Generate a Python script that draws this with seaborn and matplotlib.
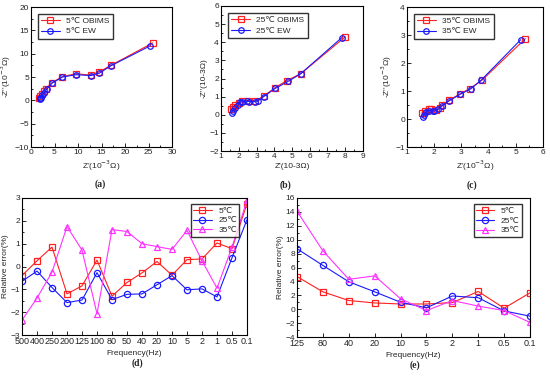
import numpy as np
import pandas as pd
import matplotlib
matplotlib.use("Agg")
import matplotlib.pyplot as plt
from matplotlib.ticker import AutoMinorLocator
import seaborn as sns

sns.set_style("white")
plt.rcParams['font.family'] = ['Liberation Sans', 'DejaVu Sans']

# ---- Nyquist data (a) 5C ----
a_obims_x = [1.8, 2.0, 2.3, 2.7, 3.1, 4.5, 6.7, 9.6, 12.7, 14.5, 17.0, 25.9]
a_obims_y = [0.6, 0.9, 1.4, 2.0, 2.5, 3.8, 5.1, 5.7, 5.4, 6.1, 7.5, 12.3]
a_ew_x = [1.9, 2.0, 2.1, 2.4, 2.8, 3.3, 4.5, 6.7, 9.6, 12.7, 14.5, 17.0, 25.4]
a_ew_y = [0.3, 0.45, 0.6, 1.1, 1.6, 2.35, 3.7, 5.0, 5.5, 5.3, 5.8, 7.4, 11.7]

# ---- (b) 25C ----
b_obims_x = [1.55, 1.7, 1.8, 2.0, 2.2, 2.5, 2.9, 3.4, 4.05, 4.7, 5.5, 8.0]
b_obims_y = [0.32, 0.45, 0.55, 0.65, 0.75, 0.78, 0.75, 1.02, 1.5, 1.88, 2.27, 4.3]
b_ew_x = [1.6, 1.65, 1.8, 1.95, 2.05, 2.2, 2.45, 2.6, 2.9, 3.1, 3.4, 4.05, 4.8, 5.5, 7.8]
b_ew_y = [0.12, 0.2, 0.35, 0.55, 0.72, 0.7, 0.75, 0.73, 0.72, 0.78, 1.0, 1.45, 1.85, 2.27, 4.25]

# ---- (c) 35C ----
c_obims_x = [1.55, 1.65, 1.8, 1.9, 2.05, 2.2, 2.3, 2.55, 2.95, 3.3, 3.75, 5.35]
c_obims_y = [0.22, 0.3, 0.35, 0.35, 0.33, 0.38, 0.5, 0.67, 0.9, 1.08, 1.38, 2.87]
c_ew_x = [1.6, 1.62, 1.7, 1.8, 1.95, 2.0, 2.15, 2.3, 2.55, 2.95, 3.35, 3.72, 5.18]
c_ew_y = [0.07, 0.15, 0.25, 0.3, 0.3, 0.28, 0.35, 0.48, 0.65, 0.88, 1.08, 1.38, 2.83]

# ---- (d) relative error ----
d_freq = ['500', '400', '250', '200', '125', '100', '80', '50', '40', '20', '10', '5', '2', '1', '0.5', '0.1']
d_5 = [-0.4, 0.25, 0.85, -1.2, -0.85, 0.28, -1.3, -0.7, -0.28, 0.22, -0.38, 0.3, 0.33, 1.03, 0.78, 2.75]
d_25 = [-0.65, -0.2, -0.92, -1.58, -1.47, -0.27, -1.45, -1.22, -1.2, -0.8, -0.4, -1.02, -0.98, -1.33, 0.38, 2.05]
d_35 = [-2.35, -1.38, -0.25, 1.75, 0.72, -2.07, 1.62, 1.53, 1.0, 0.87, 0.75, 1.58, 0.25, -0.95, 0.85, 2.9]

# ---- (e) relative error ----
e_freq = ['125', '80', '40', '20', '10', '5', '2', '1', '0.5', '0.1']
e_5 = [4.7, 2.5, 1.25, 0.9, 0.75, 0.75, 0.95, 2.55, 0.15, 2.35]
e_25 = [8.7, 6.3, 3.95, 2.5, 1.0, 0.2, 1.9, 1.65, -0.25, -1.0]
e_35 = [14.1, 8.4, 4.3, 4.8, 1.5, -0.2, 1.25, 0.45, -0.2, -1.9]

RED = '#ff2020'
BLUE = '#1a1aff'
MAG = '#ff33ff'
FS = 6

W, H = 550, 381
fig = plt.figure(figsize=(W / 100, H / 100), dpi=100)


def add_ax(l, r, t, b):
    return fig.add_axes([l / W, 1 - b / H, (r - l) / W, (b - t) / H])


def style(ax):
    for s in ax.spines.values():
        s.set_visible(True)
        s.set_color('black')
        s.set_linewidth(0.8)
    ax.xaxis.set_minor_locator(AutoMinorLocator(2))
    ax.yaxis.set_minor_locator(AutoMinorLocator(2))
    ax.tick_params(which='both', direction='in', labelsize=FS, pad=1.5,
                   bottom=True, left=True, top=False, right=False, width=0.7)
    ax.tick_params(which='major', length=3)
    ax.tick_params(which='minor', length=1.5)


def nyquist(ax, ox, oy, ex, ey, temp, xlim, ylim, xlabel, ylabel):
    df_o = pd.DataFrame({'x': ox, 'y': oy})
    df_e = pd.DataFrame({'x': ex, 'y': ey})
    sns.lineplot(data=df_o, x='x', y='y', sort=False, ax=ax, color=RED, lw=0.8,
                 marker='s', ms=4, mfc='none', mec=RED, mew=0.9,
                 label=f'{temp}℃ OBIMS')
    sns.lineplot(data=df_e, x='x', y='y', sort=False, ax=ax, color=BLUE, lw=0.8,
                 marker='o', ms=4, mfc='none', mec=BLUE, mew=0.9, alpha=1,
                 label=f'{temp}℃ EW')
    ax.set_xlim(*xlim)
    ax.set_ylim(*ylim)
    ax.set_xlabel(xlabel, fontsize=FS, labelpad=2)
    ax.set_ylabel(ylabel, fontsize=FS, labelpad=1)
    style(ax)
    ax.legend(loc='upper left', fontsize=FS, frameon=True, fancybox=False,
              edgecolor='black', handlelength=2.2, borderpad=0.4,
              labelspacing=0.3, bbox_to_anchor=(0.02, 0.98))


ax_a = add_ax(31, 172, 7, 147)
nyquist(ax_a, a_obims_x, a_obims_y, a_ew_x, a_ew_y, 5, (0, 30), (-10, 20),
        "Z'(10$^{-3}$Ω)", "-Z''(10$^{-3}$Ω)")
ax_a.set_xticks([0, 5, 10, 15, 20, 25, 30])
ax_a.set_yticks([-10, -5, 0, 5, 10, 15, 20])

ax_b = add_ax(221, 363, 6, 151)
nyquist(ax_b, b_obims_x, b_obims_y, b_ew_x, b_ew_y, 25, (1, 9), (-2, 6),
        "Z'(10-3Ω)", "-Z''(10-3Ω)")
ax_b.set_xticks(range(1, 10))
ax_b.set_yticks(range(-2, 7))

ax_c = add_ax(407, 543, 7, 147)
nyquist(ax_c, c_obims_x, c_obims_y, c_ew_x, c_ew_y, 35, (1, 6), (-1, 4),
        "Z'(10$^{-3}$Ω)", "-Z''(10$^{-3}$Ω)")
ax_c.set_xticks(range(1, 7))
ax_c.set_yticks(range(-1, 5))


def relerr(ax, freq, s5, s25, s35, ylim, yticks):
    df = pd.DataFrame({'idx': np.arange(len(freq)), 's5': s5, 's25': s25, 's35': s35})
    kw = dict(lw=0.8, ms=4.5, mfc='none', mew=0.9)
    sns.lineplot(data=df, x='idx', y='s5', ax=ax, color=RED, marker='s', mec=RED, label='5℃', **kw)
    sns.lineplot(data=df, x='idx', y='s25', ax=ax, color=BLUE, marker='o', mec=BLUE, label='25℃', **kw)
    sns.lineplot(data=df, x='idx', y='s35', ax=ax, color=MAG, marker='^', mec=MAG, label='35℃', **kw)
    ax.set_xlim(0, len(freq) - 1)
    ax.set_ylim(*ylim)
    ax.set_yticks(yticks)
    style(ax)
    ax.set_xticks(np.arange(len(freq)))
    ax.set_xticklabels(freq)
    ax.xaxis.set_minor_locator(plt.NullLocator())
    ax.set_xlabel('Frequency(Hz)', fontsize=FS, labelpad=3)
    ax.set_ylabel('Relative error(%)', fontsize=FS, labelpad=1)
    ax.legend(loc='upper right', fontsize=FS, frameon=True, fancybox=False,
              edgecolor='black', handlelength=2.2, borderpad=0.3,
              labelspacing=0.25, bbox_to_anchor=(0.985, 0.985))


ax_d = add_ax(22, 247, 198, 335)
relerr(ax_d, d_freq, d_5, d_25, d_35, (-3, 3), range(-3, 4))
ax_d.tick_params(axis='x', labelsize=6.5)

ax_e = add_ax(297, 530, 198, 337)
relerr(ax_e, e_freq, e_5, e_25, e_35, (-4, 16), range(-4, 17, 2))
ax_e.tick_params(axis='x', labelsize=6.5)

for lab, x, y in [('(a)', 100, 184), ('(b)', 285, 185), ('(c)', 472, 185),
                  ('(d)', 137, 363), ('(e)', 415, 365)]:
    fig.text(x / W, 1 - y / H, lab, ha='center', va='center', fontsize=7,
             fontweight='bold', family=['Liberation Serif', 'DejaVu Serif'])

fig.savefig('out.png', dpi=100)
